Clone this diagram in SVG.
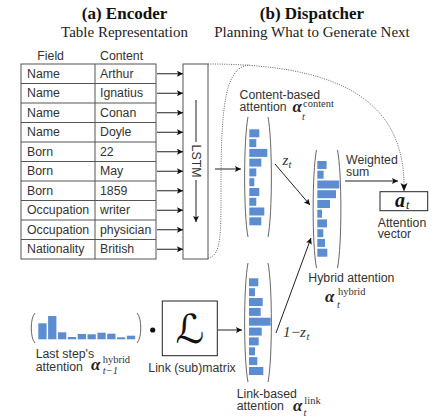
<svg xmlns="http://www.w3.org/2000/svg" width="443" height="420" viewBox="0 0 443 420">
<defs>
<marker id="ah" viewBox="0 0 10 10" refX="10" refY="5" markerWidth="8" markerHeight="6" orient="auto" markerUnits="userSpaceOnUse">
<path d="M0,0 L10,5 L0,10 L2,5 Z" fill="#111"/>
</marker>
<style>
.ti{font-family:"Liberation Serif",serif;font-weight:bold;font-size:17px;fill:#111}
.st{font-family:"Liberation Serif",serif;font-size:15px;fill:#222}
.s{font-family:"Liberation Sans",Arial,sans-serif;font-size:12.3px;fill:#333}
.al{font-family:"Liberation Serif",serif;font-weight:bold;font-style:italic;font-size:17px;fill:#222}
.sup{font-family:"Liberation Serif",serif;font-size:10.5px;fill:#333}
.sub{font-family:"Liberation Serif",serif;font-style:italic;font-size:10.5px;fill:#333}
.m{font-family:"Liberation Serif",serif;font-style:italic;font-size:15px;fill:#333}
.cell{fill:#fff;stroke:#555;stroke-width:1}
.bar{fill:#5b8dd0}
.par{fill:none;stroke:#666;stroke-width:1}
.ar{stroke:#222;stroke-width:1;fill:none;marker-end:url(#ah)}
.dot{stroke:#555;stroke-width:0.9;fill:none;stroke-dasharray:1 1.3}
</style>
</defs>
<rect width="443" height="420" fill="#fff"/>

<g id="titles">
<text class="ti" x="124.5" y="19" text-anchor="middle">(a) Encoder</text>
<text class="ti" x="312" y="19" text-anchor="middle">(b) Dispatcher</text>
<text class="st" x="124.5" y="36.5" text-anchor="middle">Table Representation</text>
<text class="st" x="312" y="36.5" text-anchor="middle">Planning What to Generate Next</text>
</g>

<g id="table">
<text class="s" x="37.3" y="60">Field</text>
<text class="s" x="100" y="60">Content</text>
<rect class="cell" x="21" y="64" width="135" height="195"/>
<line class="cell" x1="95" y1="64" x2="95" y2="259"/>
<g stroke="#555" stroke-width="1">
<line x1="21" y1="83.5" x2="156" y2="83.5"/>
<line x1="21" y1="103" x2="156" y2="103"/>
<line x1="21" y1="122.5" x2="156" y2="122.5"/>
<line x1="21" y1="142" x2="156" y2="142"/>
<line x1="21" y1="161.5" x2="156" y2="161.5"/>
<line x1="21" y1="181" x2="156" y2="181"/>
<line x1="21" y1="200.5" x2="156" y2="200.5"/>
<line x1="21" y1="220" x2="156" y2="220"/>
<line x1="21" y1="239.5" x2="156" y2="239.5"/>
</g>
<g class="s">
<text x="27" y="77.7">Name</text><text x="100" y="77.7">Arthur</text>
<text x="27" y="97.2">Name</text><text x="100" y="97.2">Ignatius</text>
<text x="27" y="116.7">Name</text><text x="100" y="116.7">Conan</text>
<text x="27" y="136.2">Name</text><text x="100" y="136.2">Doyle</text>
<text x="27" y="155.7">Born</text><text x="100" y="155.7">22</text>
<text x="27" y="175.2">Born</text><text x="100" y="175.2">May</text>
<text x="27" y="194.7">Born</text><text x="100" y="194.7">1859</text>
<text x="27" y="214.2">Occupation</text><text x="100" y="214.2">writer</text>
<text x="27" y="233.7">Occupation</text><text x="100" y="233.7">physician</text>
<text x="27" y="253.2">Nationality</text><text x="100" y="253.2">British</text>
</g>
</g>

<g id="lstm">
<rect class="cell" x="183" y="64" width="25" height="195"/>
<line x1="196" y1="100" x2="196" y2="142" stroke="#222" stroke-width="1"/>
<text class="s" x="196" y="161" text-anchor="middle" dominant-baseline="central" transform="rotate(90 196 161)">LSTM</text>
<line class="ar" x1="196" y1="180" x2="196" y2="222"/>
</g>

<g id="content-attention">
<text class="s" x="239.5" y="99">Content-based</text>
<text class="s" x="239.5" y="110.5">attention</text>
<text class="al" x="292.5" y="112">α</text>
<text class="sup" x="303" y="106.5">content</text>
<text class="sub" x="302" y="120">t</text>
<path class="par" d="M248,117 C243.5,140 243.5,214 248,237"/>
<path class="par" d="M268,117 C272.5,140 272.5,214 268,237"/>
<g class="bar">
<rect x="249.3" y="129.3" width="10" height="8"/>
<rect x="249.3" y="139.1" width="7" height="8"/>
<rect x="249.3" y="148.9" width="18" height="8"/>
<rect x="249.3" y="158.6" width="12" height="8"/>
<rect x="249.3" y="168.4" width="7" height="8"/>
<rect x="249.3" y="178.2" width="5" height="8"/>
<rect x="249.3" y="188" width="10" height="8"/>
<rect x="249.3" y="197.8" width="7" height="8"/>
<rect x="249.3" y="207.5" width="15" height="8"/>
<rect x="249.3" y="217.3" width="12" height="8"/>
</g>
</g>

<g id="hybrid-attention">
<path class="par" d="M316.5,150 C312,173 312,245 316.5,268"/>
<path class="par" d="M337.5,150 C342,173 342,245 337.5,268"/>
<g class="bar">
<rect x="317.3" y="161" width="9.3" height="8"/>
<rect x="317.3" y="170.7" width="6.3" height="8"/>
<rect x="317.3" y="180.5" width="22" height="8"/>
<rect x="317.3" y="190.2" width="18.7" height="8"/>
<rect x="317.3" y="200" width="12.7" height="8"/>
<rect x="317.3" y="209.7" width="4.7" height="8"/>
<rect x="317.3" y="219.4" width="9.7" height="8"/>
<rect x="317.3" y="229.2" width="6" height="8"/>
<rect x="317.3" y="238.9" width="7.7" height="8"/>
<rect x="317.3" y="248.7" width="10" height="8"/>
</g>
<text class="s" x="308.3" y="281.7">Hybrid attention</text>
<text class="al" x="325" y="301.7">α</text>
<text class="sup" x="338" y="295">hybrid</text>
<text class="sub" x="337" y="308">t</text>
</g>

<g id="link-attention">
<path class="par" d="M248,263 C243.5,286 243.5,359 248,382"/>
<path class="par" d="M268,263 C272.5,286 272.5,359 268,382"/>
<g class="bar">
<rect x="249" y="278.3" width="9.3" height="8"/>
<rect x="249" y="288.2" width="6" height="8"/>
<rect x="249" y="298" width="13.7" height="8"/>
<rect x="249" y="307.9" width="11.7" height="8"/>
<rect x="249" y="317.7" width="21.7" height="8"/>
<rect x="249" y="327.6" width="12.7" height="8"/>
<rect x="249" y="337.4" width="9.7" height="8"/>
<rect x="249" y="347.3" width="6" height="8"/>
<rect x="249" y="357.1" width="8.3" height="8"/>
<rect x="249" y="367" width="14.3" height="8"/>
</g>
<text class="s" x="236.7" y="398.3">Link-based</text>
<text class="s" x="236.7" y="410">attention</text>
<text class="al" x="293" y="411">α</text>
<text class="sup" x="304.3" y="404">link</text>
<text class="sub" x="303.5" y="416">t</text>
</g>

<g id="last-step-attention">
<path class="par" d="M35,313 C30,318 30,338 35,343"/>
<path class="par" d="M137,313 C142,318 142,338 137,343"/>
<g class="bar">
<rect x="38.3" y="323.3" width="8.3" height="16"/>
<rect x="48.1" y="316" width="8.3" height="23.3"/>
<rect x="58" y="332.3" width="8.3" height="7"/>
<rect x="67.8" y="337" width="8.3" height="2.3"/>
<rect x="77.7" y="334" width="8.3" height="5.3"/>
<rect x="87.5" y="334.3" width="8.3" height="5"/>
<rect x="97.4" y="332.7" width="8.3" height="6.6"/>
<rect x="107.2" y="333.7" width="8.3" height="5.6"/>
<rect x="117" y="337.3" width="8.3" height="2"/>
<rect x="126.9" y="335.7" width="8.3" height="3.6"/>
</g>
<text class="s" x="35.7" y="357.7">Last step's</text>
<text class="s" x="35.7" y="371">attention</text>
<text class="al" x="91" y="370">α</text>
<text class="sup" x="102.7" y="362.7">hybrid</text>
<text class="sub" x="102.7" y="373.5">t−1</text>
<circle cx="152.7" cy="330" r="2.6" fill="#111"/>
</g>

<g id="link-matrix">
<rect x="162.3" y="301" width="55" height="54.7" fill="#fff" stroke="#222" stroke-width="1"/>
<text x="190" y="343" text-anchor="middle" font-family="DejaVu Serif, DejaVu Sans, serif" font-style="italic" font-size="40" fill="#111">ℒ</text>
<text class="s" x="148.3" y="371.7">Link (sub)matrix</text>
</g>

<g id="attention-vector">
<rect x="380" y="191.7" width="47.7" height="19" fill="#fff" stroke="#222" stroke-width="1"/>
<text x="395" y="206.5" font-family="Liberation Serif, serif" font-weight="bold" font-style="italic" font-size="20" fill="#111">a</text>
<text x="406" y="209" font-family="Liberation Serif, serif" font-style="italic" font-size="12" fill="#111">t</text>
<text class="s" x="377.7" y="226.7">Attention</text>
<text class="s" x="377.7" y="238">vector</text>
</g>

<g id="connectors">
<line class="ar" x1="157" y1="73.75" x2="183" y2="73.75"/>
<line class="ar" x1="157" y1="93.25" x2="183" y2="93.25"/>
<line class="ar" x1="157" y1="112.75" x2="183" y2="112.75"/>
<line class="ar" x1="157" y1="132.25" x2="183" y2="132.25"/>
<line class="ar" x1="157" y1="151.75" x2="183" y2="151.75"/>
<line class="ar" x1="157" y1="171.25" x2="183" y2="171.25"/>
<line class="ar" x1="157" y1="190.75" x2="183" y2="190.75"/>
<line class="ar" x1="157" y1="210.25" x2="183" y2="210.25"/>
<line class="ar" x1="157" y1="229.75" x2="183" y2="229.75"/>
<line class="ar" x1="157" y1="249.25" x2="183" y2="249.25"/>
<line class="ar" x1="215" y1="169" x2="241" y2="169"/>
<line class="ar" x1="275" y1="164" x2="310" y2="205"/>
<text class="m" x="282.5" y="165" font-size="14">z</text><text class="sub" x="288.5" y="168">t</text>
<line class="ar" x1="276" y1="333" x2="311" y2="238"/>
<text class="m" x="283" y="337">1</text><text class="m" x="290.5" y="337" font-style="normal">−</text><text class="m" x="300" y="337">z</text><text class="sub" x="306.5" y="340">t</text>
<line class="ar" x1="218" y1="330" x2="242" y2="330"/>
<text class="s" x="346" y="164.3">Weighted</text>
<text class="s" x="346" y="175.5">sum</text>
<line class="ar" x1="345" y1="181" x2="398" y2="181"/>
<path class="dot" d="M208,64 C330,64 404,95 404,186"/>
<path d="M404,191.5 L400.5,183 L404,185 L407.5,183 Z" fill="#111"/>
<path class="dot" d="M208,258 C221,256 221,235 221,190 C221,110 224,66 250,65"/>
</g>
</svg>
